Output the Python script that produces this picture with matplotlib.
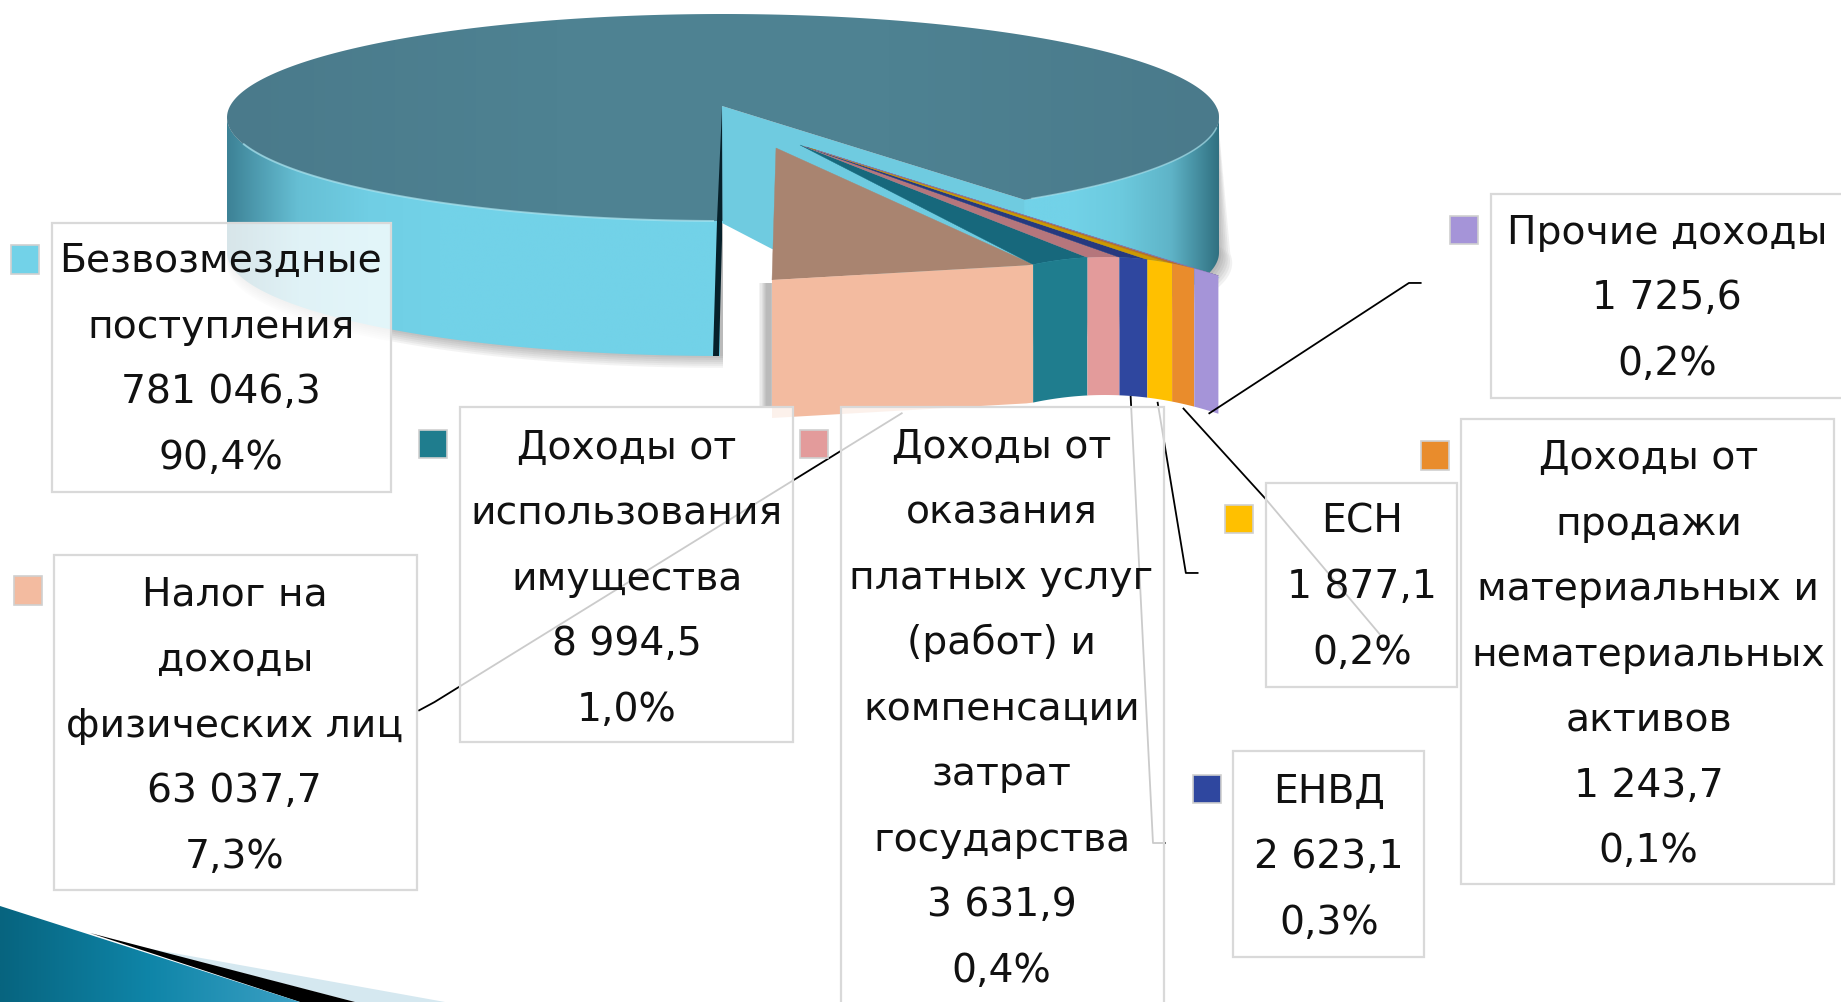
import numpy as np
import matplotlib
matplotlib.use("Agg")
import matplotlib.pyplot as plt
from matplotlib.patches import Polygon, Rectangle
from matplotlib.colors import LinearSegmentedColormap

plt.rcParams['font.family'] = ['DejaVu Sans']

# ---------- data ----------
categories = [
    "Безвозмездные\nпоступления",
    "Налог на\nдоходы\nфизических лиц",
    "Доходы от\nиспользования\nимущества",
    "Доходы от\nоказания\nплатных услуг\n(работ) и\nкомпенсации\nзатрат\nгосударства",
    "ЕНВД",
    "ЕСН",
    "Доходы от\nпродажи\nматериальных и\nнематериальных\nактивов",
    "Прочие доходы",
]
values = [781046.3, 63037.7, 8994.5, 3631.9, 2623.1, 1877.1, 1243.7, 1725.6]
colors = ["#72d2e8", "#f3bba0", "#1f7d8e", "#e39b9b", "#2f479f", "#ffc000", "#e98c2c", "#a594d8"]
top_colors = ["#4e8090", "#a98470", "#17687c", "#b5767c", "#26397f", "#cc9a00", "#ba7023", "#8476ad"]

# ---------- layout (px of the 1568-wide view) ----------
S = 1841 / 1568
boxes = [(44, 190, 333, 419), (46, 473, 355, 758), (392, 347, 675, 632), (716, 347, 991, 880),
         (1050, 640, 1213, 815), (1078, 411, 1241, 585), (1244, 357, 1562, 753), (1270, 165, 1600, 339)]
text_cx = [188, 200, 534, 853, 1132, 1160, 1404, 1420]
first_line = [219, 503, 378, 377, 671, 441, 387, 195]
keys = [(21, 221), (24, 503), (369, 378), (693, 378), (1028, 672), (1055, 442), (1222, 388), (1247, 196)]
line_step = 55.8

fig = plt.figure(figsize=(18.41, 10.02), dpi=100)
ax = fig.add_axes([0, 0, 1, 1])
ax.set_xlim(0, 1841)
ax.set_ylim(1002, 0)
ax.axis("off")

total = sum(values)
shares = [v / total for v in values]

cx, cy, a, b, depth = 723.0, 117.5, 496.0, 103.5, 135.0
apex = (722.0, 106.0)


def rim(theta):
    return cx + a * np.sin(theta), cy + b * np.cos(theta)


# main slice: clockwise from the south point, leaving the cut of the other shares
cut = 2 * np.pi * (1 - shares[0]) * 1.08
th_main = np.linspace(cut, 2 * np.pi, 300)
rx, ry = rim(th_main)


def grad(poly, stops, x0, x1, y0, y1, z):
    cmap = LinearSegmentedColormap.from_list("g", stops)
    g = np.linspace(0, 1, 256).reshape(1, -1)
    im = ax.imshow(g, extent=(x0, x1, y1, y0), cmap=cmap, aspect="auto", zorder=z, interpolation="bilinear")
    p = Polygon(poly, closed=True, transform=ax.transData, fc="none", ec="none")
    ax.add_patch(p)
    im.set_clip_path(p)


# soft shadows
th_r = np.linspace(np.radians(30), np.radians(95), 60)
xr, yr = rim(th_r)
th_l = np.linspace(np.radians(270), 2 * np.pi, 100)
xl, yl = rim(th_l)
for i in range(7):
    off = 2.2 * i
    ax.add_patch(Polygon(np.c_[np.r_[xr + off, xr[::-1]], np.r_[yr + depth + off * .8, yr[::-1]]],
                         fc="#404040", ec="none", alpha=.07, zorder=1))
    ax.add_patch(Polygon(np.c_[np.r_[xl[::-1], xl], np.r_[yl[::-1], yl + depth + off * .9]],
                         fc="#404040", ec="none", alpha=.06, zorder=1))
    ax.add_patch(Rectangle((766 - off * .5, 283), 12, 125, fc="#404040", ec="none", alpha=.06, zorder=1))

# cut wall of main slice
rim_cut = rim(cut)
wall = [apex, rim_cut, (rim_cut[0] + 195, rim_cut[1] + 78), (1040, 320), (772, 249), (722, 223)]
ax.add_patch(Polygon(wall, fc="#6fcbe0", ec="none", zorder=2))

# cylinder side, right of the cut
th = np.linspace(cut, np.pi / 2, 100)
x_, y_ = rim(th)
right_side = np.c_[np.r_[x_, x_[::-1]], np.r_[y_, (y_ + depth)[::-1]]]
grad(right_side, ["#72d2e8", "#72d2e8", "#6ccade", "#5fb4c8", "#2f6e7e"], 1020, 1221, 100, 320, 3)

# cylinder side, left front
th = np.linspace(3 * np.pi / 2, 2 * np.pi, 200)
x_, y_ = rim(th)
left_side = np.c_[np.r_[x_, x_[::-1]], np.r_[y_, (y_ + depth)[::-1]]]
grad(left_side, ["#3d8296", "#66bfd4", "#70cee4", "#72d2e8", "#72d2e8", "#72d2e8", "#72d2e8", "#72d2e8"],
     227, 720, 100, 360, 3)

# top of the main slice
top_poly = np.r_[np.c_[rx, ry], [apex]]
grad(top_poly, ["#4a7a8b", "#4e8292", "#4e8292", "#4a7a8b"], 227, 1219, 0, 230, 4)
ax.plot(*rim(np.linspace(np.radians(285), 2 * np.pi - .02, 100)), color="#a8e4f0", lw=1.4, alpha=.7, zorder=5)
ax.plot(*rim(np.linspace(cut + .02, np.radians(84), 100)), color="#a8e4f0", lw=1.2, alpha=.6, zorder=5)

# dark edge at the south side of the cut
ax.add_patch(Polygon([(722, 108), (722, 240), (719, 356), (713, 356), (717, 221)], fc="#06202a", ec="none", zorder=6))


# exploded slices: front faces are as wide as their share plus the explosion gap
def front_top(x):
    x = np.asarray(x, dtype=float)
    return np.where(x < 1033, 265 + 15 * (1033 - x) / 261, 257 + .00146 * (x - 1105) ** 2)


gap, k = 17.0, 3580.0
x_left = 772.0
drop = 138.0
for i in range(1, len(values)):
    w = gap * (i > 1) + k * shares[i]
    xs = np.linspace(x_left, x_left + w, 40)
    tops = front_top(xs)
    ap = (776.0, 148.0) if i == 1 else (800.0 + 3.2 * (i - 2), 145.0 + 1.0 * (i - 2))
    ax.add_patch(Polygon(np.r_[[ap], np.c_[xs, tops]], fc=top_colors[i], ec=top_colors[i], lw=.3, zorder=7 + i * .01))
    ax.add_patch(Polygon(np.c_[np.r_[xs, xs[::-1]], np.r_[tops, (tops + drop)[::-1]]],
                         fc=colors[i], ec="none", zorder=8))
    x_left += w

# corner decoration
ax.add_patch(Polygon([(140, 947), (445, 1002), (355, 1002)], fc="#d5e8f0", ec="none", zorder=1))
ax.add_patch(Polygon([(90, 933), (355, 1002), (300, 1002)], fc="black", ec="none", zorder=1.5))
grad([(0, 906), (300, 1002), (0, 1002)], ["#07647f", "#0f85a8", "#3ba0c4"], 0, 300, 900, 1002, 2)

# leader lines (under the translucent boxes)
leaders = [
    ([357, 370, 768], [605, 598, 352]),
    ([1210, 1200, 1030], [241, 241, 352]),
    ([1008, 1078, 1175], [348, 425, 540]),
    ([986, 1010, 1020], [343, 488, 488]),
    ([963, 982, 992], [338, 718, 718]),
]
for lx, ly in leaders:
    ax.plot(np.array(lx) * S, np.array(ly) * S, color="black", lw=1.3, zorder=9)

# data labels
for i, cat in enumerate(categories):
    x0, y0, x1, y1 = [v * S for v in boxes[i]]
    ax.add_patch(Rectangle((x0, y0), x1 - x0, y1 - y0, fc=(1, 1, 1, .8), ec="#d9d9d9", lw=1.6, zorder=10))
    txt = f"{values[i]:,.1f}".replace(",", " ").replace(".", ",")
    pct = f"{shares[i] * 100:.1f}%".replace(".", ",")
    lines = cat.split("\n") + [txt, pct]
    for j, line in enumerate(lines):
        ax.text(text_cx[i] * S, (first_line[i] + j * line_step) * S, line, ha="center", va="center_baseline",
                fontsize=28.3, color="#111111", zorder=11, clip_on=True)
    kx, ky = keys[i]
    ax.add_patch(Rectangle(((kx - 12) * S, (ky - 12) * S), 24 * S, 24 * S, fc=colors[i], ec="#d0d0d0", lw=1.2, zorder=11))

fig.savefig("out.png", dpi=100)
